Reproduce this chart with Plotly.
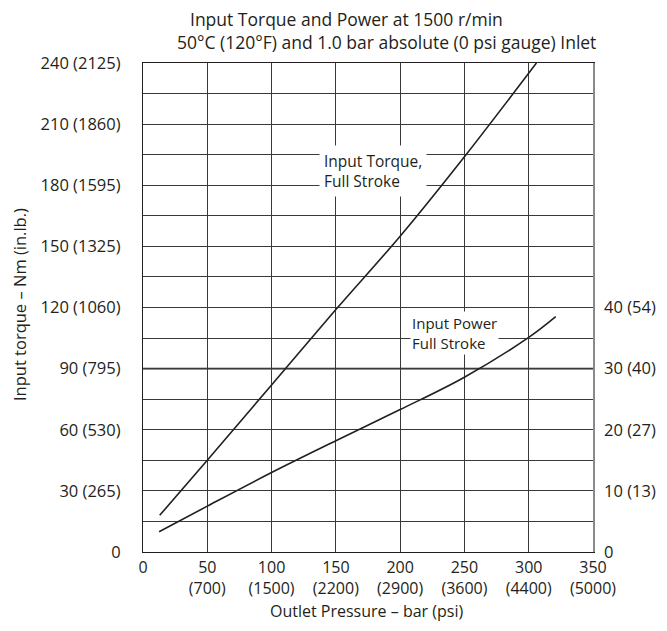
import plotly.graph_objects as go

# ---- data ----
pressure_bar_ticks = [0, 50, 100, 150, 200, 250, 300, 350]
pressure_psi_ticks = ["", "700", "1500", "2200", "2900", "3600", "4400", "5000"]
torque_ticks_nm = [0, 30, 60, 90, 120, 150, 180, 210, 240]
torque_ticks_inlb = ["", "265", "530", "795", "1060", "1325", "1595", "1860", "2125"]
power_ticks_kw = [0, 10, 20, 30, 40]
power_ticks_hp = ["", "13", "27", "40", "54"]

torque_pressure = [13, 50, 100, 150, 200, 250, 306]
torque_nm = [18, 45, 82, 119, 155, 194, 240]

power_pressure = [12.5, 50, 100, 150, 200, 250, 300, 321]
power_kw = [3.3, 7.5, 13.0, 18.2, 23.3, 28.6, 35.1, 38.5]

FONT = "Open Sans"
TXT = "#231f20"
GRID = "#3a3a3a"
TICK = 16.5

OFF = 8  # page body margin
W, H = 667 - OFF, 631 - OFF
# plot area in page pixels
L, R, T, B = 143, 593, 63, 552

def lab(v, s):
    return f"{v}" if s == "" else f"{v} ({s})"

fig = go.Figure()
fig.add_trace(go.Scatter(x=torque_pressure, y=torque_nm, mode="lines",
                         line=dict(color=TXT, width=1.6), line_shape="spline",
                         showlegend=False, hoverinfo="skip"))
fig.add_trace(go.Scatter(x=power_pressure, y=power_kw, mode="lines", yaxis="y2",
                         line=dict(color=TXT, width=1.6), line_shape="spline",
                         showlegend=False, hoverinfo="skip"))

fig.update_layout(
    width=W, height=H,
    margin=dict(l=L - OFF, r=W - (R - OFF), t=T - OFF, b=H - (B - OFF)),
    paper_bgcolor="white", plot_bgcolor="white",
    font=dict(family=FONT, size=TICK, color=TXT),
    xaxis=dict(range=[0, 350], tickvals=pressure_bar_ticks,
               ticktext=[f"{b}" if p == "" else f"{b}<br>({p})" for b, p in zip(pressure_bar_ticks, pressure_psi_ticks)],
               showgrid=True, gridcolor=GRID, gridwidth=1, zeroline=False,
               showline=True, linecolor=TXT, linewidth=1.2, mirror=True,
               ticks="outside", ticklen=1, tickcolor="rgba(0,0,0,0)",
               tickfont=dict(size=16)),
    yaxis=dict(range=[0, 240], tickvals=torque_ticks_nm,
               ticktext=[lab(v, s) for v, s in zip(torque_ticks_nm, torque_ticks_inlb)],
               showgrid=True, gridcolor=GRID, gridwidth=1, zeroline=False,
               minor=dict(dtick=15, tick0=0, showgrid=True, gridcolor=GRID, gridwidth=1),
               showline=True, linecolor=TXT, linewidth=1.2,
               ticks="outside", ticklen=18, tickcolor="rgba(0,0,0,0)",
               tickfont=dict(size=TICK)),
    yaxis2=dict(range=[0, 80], overlaying="y", side="right",
                tickvals=power_ticks_kw,
                ticktext=[lab(v, s) for v, s in zip(power_ticks_kw, power_ticks_hp)],
                showgrid=False, zeroline=False,
                showline=True, linecolor="#8a8a8a", linewidth=1.5,
                ticks="outside", ticklen=6, tickcolor="rgba(0,0,0,0)",
                tickfont=dict(size=TICK)),
)

# heavier line at 90 Nm
fig.add_shape(type="line", xref="paper", yref="y", x0=0, x1=1, y0=90, y1=90,
              line=dict(color=TXT, width=1.6), layer="below")

def px(xp):
    return (xp - L) / (R - L)

def py(yp):
    return (B - yp) / (B - T)

ann = []
# titles
ann.append(dict(text="Input Torque and Power at 1500 r/min", x=px(346), y=py(19),
                xref="paper", yref="paper", showarrow=False, font=dict(size=17.5),
                xanchor="center", yanchor="middle", borderpad=0))
ann.append(dict(text="50°C (120°F) and 1.0 bar absolute (0 psi gauge) Inlet", x=px(386), y=py(42),
                xref="paper", yref="paper", showarrow=False, font=dict(size=17.5),
                xanchor="center", yanchor="middle", borderpad=0))
# axis titles
ann.append(dict(text="Outlet Pressure – bar (psi)", x=px(366), y=py(611),
                xref="paper", yref="paper", showarrow=False, font=dict(size=16),
                xanchor="center", yanchor="middle", borderpad=0))
ann.append(dict(text="Input torque – Nm (in.lb.)", x=px(19), y=py(305),
                xref="paper", yref="paper", showarrow=False, font=dict(size=16.5),
                textangle=-90, xanchor="center", yanchor="middle"))
ann.append(dict(text="Input power – kW (hp)", x=px(672), y=py(432),
                xref="paper", yref="paper", showarrow=False, font=dict(size=16.5),
                textangle=-90, xanchor="center", yanchor="middle"))
# curve labels
ann.append(dict(text="Input Torque,<br>Full Stroke", x=px(319), y=py(171),
                xref="paper", yref="paper", showarrow=False, font=dict(size=15.5),
                align="left", xanchor="left", yanchor="middle",
                bgcolor="white", borderpad=4))
ann.append(dict(text="Input Power<br>Full Stroke", x=px(410), y=py(333),
                xref="paper", yref="paper", showarrow=False, font=dict(size=15),
                align="left", xanchor="left", yanchor="middle",
                bgcolor="white", borderpad=1))
fig.update_layout(annotations=ann)

fig.write_html("out.html")
